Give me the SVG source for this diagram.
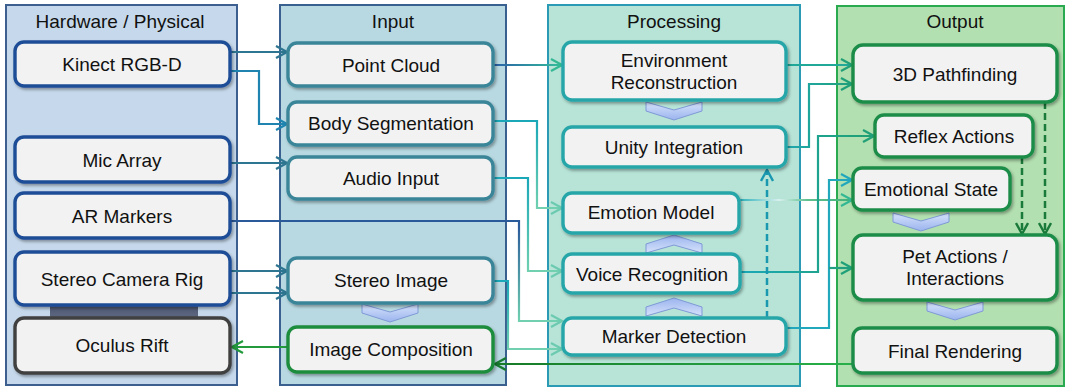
<svg xmlns="http://www.w3.org/2000/svg" xmlns:xlink="http://www.w3.org/1999/xlink" width="1067" height="390" viewBox="0 0 1067 390">
<defs>
<style>
.t{font-family:"Liberation Sans",Arial,sans-serif;font-size:19px;fill:#111;text-anchor:middle}
.box{fill:#f2f2f2;stroke-width:3.4;filter:url(#sh)}
.hw{stroke:#1f4e96}
.oc{stroke:#404040}
.in{stroke:#3a8599}
.ic{stroke:#1f8c3e}
.pr{stroke:#26a6a8}
.out{stroke:#1e8c48}
.c{fill:none;stroke-width:2.2}
.d{fill:none;stroke-width:2.5;stroke-dasharray:7 4}
.chev{fill:url(#gchev);stroke:#7f9ad6;stroke-width:1}
</style>
<filter id="sh" x="-10%" y="-20%" width="125%" height="150%">
<feDropShadow dx="1.5" dy="2" stdDeviation="1.5" flood-color="#000" flood-opacity="0.35"/>
</filter>
<linearGradient id="gchev" x1="0" y1="0" x2="0" y2="1">
<stop offset="0" stop-color="#d6e2fb"/><stop offset="1" stop-color="#9bb4ee"/>
</linearGradient>
<linearGradient id="gbar" x1="0" y1="0" x2="0" y2="1">
<stop offset="0" stop-color="#4a5470"/><stop offset="1" stop-color="#606a82"/>
</linearGradient>
<path id="chev" d="M0,0 L28,8 L56,0 L56,9 L28,18 L0,9 Z"/>
<linearGradient id="g4" gradientUnits="userSpaceOnUse" x1="0" y1="225" x2="0" y2="321"><stop offset="0" stop-color="#2a5a9a"/><stop offset="1" stop-color="#70d0b0"/></linearGradient>
<linearGradient id="g8" gradientUnits="userSpaceOnUse" x1="493" y1="0" x2="563" y2="0"><stop offset="0" stop-color="#2a5fa8"/><stop offset="1" stop-color="#34c09a"/></linearGradient>
<linearGradient id="g9" gradientUnits="userSpaceOnUse" x1="0" y1="121" x2="0" y2="208"><stop offset="0" stop-color="#1aa8b8"/><stop offset="1" stop-color="#70d0b0"/></linearGradient>
<linearGradient id="g10" gradientUnits="userSpaceOnUse" x1="0" y1="178" x2="0" y2="271"><stop offset="0" stop-color="#1aa8b8"/><stop offset="1" stop-color="#70d0b0"/></linearGradient>
<linearGradient id="g11" gradientUnits="userSpaceOnUse" x1="0" y1="281" x2="0" y2="349"><stop offset="0" stop-color="#1aa8b8"/><stop offset="1" stop-color="#70d0b0"/></linearGradient>
<linearGradient id="g7" gradientUnits="userSpaceOnUse" x1="493" y1="0" x2="853" y2="0"><stop offset="0" stop-color="#177a28"/><stop offset="1" stop-color="#28b04a"/></linearGradient>
<linearGradient id="g14" gradientUnits="userSpaceOnUse" x1="739" y1="0" x2="853" y2="0"><stop offset="0" stop-color="#2ab0b8"/><stop offset="0.35" stop-color="#d8f0ee"/><stop offset="0.6" stop-color="#60c090"/><stop offset="1" stop-color="#40b078"/></linearGradient>
<linearGradient id="g13" gradientUnits="userSpaceOnUse" x1="786" y1="0" x2="853" y2="0"><stop offset="0" stop-color="#20a8b0"/><stop offset="1" stop-color="#20a078"/></linearGradient>
<linearGradient id="g15" gradientUnits="userSpaceOnUse" x1="740" y1="0" x2="875" y2="0"><stop offset="0" stop-color="#1aa8b8"/><stop offset="1" stop-color="#20a070"/></linearGradient>
<marker id="mSlate" markerUnits="userSpaceOnUse" markerWidth="14" markerHeight="14" viewBox="0 0 14 14" refX="12" refY="7" orient="auto"><path d="M1,1 L12,7 L1,13" fill="none" stroke="#2d7590" stroke-width="2.2"/></marker>
<marker id="mBlue" markerUnits="userSpaceOnUse" markerWidth="14" markerHeight="14" viewBox="0 0 14 14" refX="12" refY="7" orient="auto"><path d="M1,1 L12,7 L1,13" fill="none" stroke="#1f85b0" stroke-width="2.2"/></marker>
<marker id="mLight" markerUnits="userSpaceOnUse" markerWidth="14" markerHeight="14" viewBox="0 0 14 14" refX="12" refY="7" orient="auto"><path d="M1,1 L12,7 L1,13" fill="none" stroke="#6ccab0" stroke-width="2.2"/></marker>
<marker id="mTG" markerUnits="userSpaceOnUse" markerWidth="14" markerHeight="14" viewBox="0 0 14 14" refX="12" refY="7" orient="auto"><path d="M1,1 L12,7 L1,13" fill="none" stroke="#34b894" stroke-width="2.2"/></marker>
<marker id="mGreen" markerUnits="userSpaceOnUse" markerWidth="14" markerHeight="14" viewBox="0 0 14 14" refX="12" refY="7" orient="auto"><path d="M1,1 L12,7 L1,13" fill="none" stroke="#20a078" stroke-width="2.2"/></marker>
<marker id="mTeal" markerUnits="userSpaceOnUse" markerWidth="14" markerHeight="14" viewBox="0 0 14 14" refX="12" refY="7" orient="auto"><path d="M1,1 L12,7 L1,13" fill="none" stroke="#22a8bc" stroke-width="2.2"/></marker>
<marker id="mDk" markerUnits="userSpaceOnUse" markerWidth="14" markerHeight="14" viewBox="0 0 14 14" refX="12" refY="7" orient="auto"><path d="M1,1 L12,7 L1,13" fill="none" stroke="#187a30" stroke-width="2.4"/></marker>
<marker id="mG2" markerUnits="userSpaceOnUse" markerWidth="14" markerHeight="14" viewBox="0 0 14 14" refX="12" refY="7" orient="auto"><path d="M1,1 L12,7 L1,13" fill="none" stroke="#239a3c" stroke-width="2.2"/></marker>
<marker id="mDT" markerUnits="userSpaceOnUse" markerWidth="14" markerHeight="14" viewBox="0 0 14 14" refX="12" refY="7" orient="auto"><path d="M1,1 L12,7 L1,13" fill="none" stroke="#1a98b0" stroke-width="2.4"/></marker>
<marker id="mDG" markerUnits="userSpaceOnUse" markerWidth="14" markerHeight="14" viewBox="0 0 14 14" refX="12" refY="7" orient="auto"><path d="M1,1 L12,7 L1,13" fill="none" stroke="#1a7a3a" stroke-width="2.4"/></marker>
</defs>

<g id="containers">
<g id="hardware"><rect x="6" y="5" width="231" height="380" fill="#c6d9ec" stroke="#3c5f8f" stroke-width="2"/><text class="t" x="120" y="28">Hardware / Physical</text></g>
<g id="input"><rect x="280" y="5" width="226" height="380" fill="#b8d9e2" stroke="#3a6090" stroke-width="2"/><text class="t" x="393" y="28">Input</text></g>
<g id="processing"><rect x="548" y="5" width="252" height="381" fill="#b7e4d7" stroke="#2a9ab5" stroke-width="2"/><text class="t" x="674" y="28">Processing</text></g>
<g id="output"><rect x="837" y="6" width="227" height="380" fill="#b3e0b0" stroke="#2aaa50" stroke-width="2"/><text class="t" x="955" y="28">Output</text></g>
</g>

<rect x="50" y="302" width="148" height="18" fill="url(#gbar)"/>

<g id="chevrons">
<use xlink:href="#chev" class="chev" x="362" y="304"/>
<use xlink:href="#chev" class="chev" x="646" y="102"/>
<use xlink:href="#chev" class="chev" transform="translate(646,253) scale(1,-1)"/>
<use xlink:href="#chev" class="chev" transform="translate(646,316) scale(1,-1)"/>
<use xlink:href="#chev" class="chev" x="893" y="213"/>
<use xlink:href="#chev" class="chev" x="927" y="302"/>
</g>

<g id="connectors">
<path class="c" d="M230,52 H287" stroke="#2d7590" marker-end="url(#mSlate)"/>
<path class="c" d="M230,71 H259 V124 H287" stroke="#1f85b0" marker-end="url(#mBlue)"/>
<path class="c" d="M230,163 H287" stroke="#2d7590" marker-end="url(#mSlate)"/>
<path class="c" d="M230,221 H519 V321 H562" stroke="url(#g4)" marker-end="url(#mLight)"/>
<path class="c" d="M230,271 H287" stroke="#2d7590" marker-end="url(#mSlate)"/>
<path class="c" d="M230,293 H287" stroke="#2d7590" marker-end="url(#mSlate)"/>
<path class="c" d="M288,347 H232" stroke="#239a3c" marker-end="url(#mG2)"/>
<path class="c" d="M853,364 H495" stroke="url(#g7)" stroke-width="2.6" marker-end="url(#mDk)"/>
<path class="c" d="M493,65 H562" stroke="url(#g8)" marker-end="url(#mTG)"/>
<path class="c" d="M493,121 H537 V208 H562" stroke="url(#g9)" marker-end="url(#mLight)"/>
<path class="c" d="M493,178 H528 V271 H562" stroke="url(#g10)" marker-end="url(#mLight)"/>
<path class="c" d="M493,281 H508 V349 H562" stroke="url(#g11)" marker-end="url(#mLight)"/>
<path class="c" d="M786,65 H852" stroke="#20a898" marker-end="url(#mGreen)"/>
<path class="c" d="M786,147 H809 V84 H852" stroke="url(#g13)" marker-end="url(#mGreen)"/>
<path class="c" d="M739,200 H852" stroke="url(#g14)" marker-end="url(#mTG)"/>
<path class="c" d="M740,272 H818 V136 H874" stroke="url(#g15)" marker-end="url(#mGreen)"/>
<path class="c" d="M786,328 H829 V180 H852" stroke="#22a8bc" marker-end="url(#mTeal)"/>
<path class="c" d="M829,268 H852" stroke="#20a080" marker-end="url(#mGreen)"/>
<path class="d" d="M767,318 V170" stroke="#1a98b0" marker-end="url(#mDT)"/>
<path class="d" d="M1022,157 V234" stroke="#1a7a3a" marker-end="url(#mDG)"/>
<path class="d" d="M1045,102 V234" stroke="#1a7a3a" marker-end="url(#mDG)"/>
</g>

<g id="n-kinect"><rect class="box hw" x="15" y="42" width="215" height="44" rx="9"/><text class="t" x="122" y="71">Kinect RGB-D</text></g>
<g id="n-mic"><rect class="box hw" x="15" y="137" width="215" height="45" rx="9"/><text class="t" x="122" y="167">Mic Array</text></g>
<g id="n-ar"><rect class="box hw" x="15" y="193" width="215" height="45" rx="9"/><text class="t" x="122" y="223">AR Markers</text></g>
<g id="n-stereo-rig"><rect class="box hw" x="15" y="252" width="215" height="53" rx="9"/><text class="t" x="122" y="286">Stereo Camera Rig</text></g>
<g id="n-oculus"><rect class="box oc" x="15" y="318" width="215" height="55" rx="9"/><text class="t" x="122" y="352">Oculus Rift</text></g>

<g id="n-pointcloud"><rect class="box in" x="288" y="43" width="205" height="43" rx="9"/><text class="t" x="391" y="72">Point Cloud</text></g>
<g id="n-bodyseg"><rect class="box in" x="288" y="102" width="205" height="43" rx="9"/><text class="t" x="391" y="130">Body Segmentation</text></g>
<g id="n-audio"><rect class="box in" x="288" y="157" width="205" height="42" rx="9"/><text class="t" x="391" y="185">Audio Input</text></g>
<g id="n-stereo-img"><rect class="box in" x="288" y="258" width="205" height="45" rx="9"/><text class="t" x="391" y="287">Stereo Image</text></g>
<g id="n-imgcomp"><rect class="box ic" x="288" y="327" width="205" height="45" rx="9"/><text class="t" x="391" y="356">Image Composition</text></g>

<g id="n-envrec"><rect class="box pr" x="563" y="42" width="223" height="58" rx="9"/><text class="t" x="674" y="67">Environment</text><text class="t" x="674" y="89">Reconstruction</text></g>
<g id="n-unity"><rect class="box pr" x="563" y="127" width="223" height="40" rx="9"/><text class="t" x="674" y="154">Unity Integration</text></g>
<g id="n-emotion"><rect class="box pr" x="563" y="193" width="176" height="40" rx="9"/><text class="t" x="651" y="219">Emotion Model</text></g>
<g id="n-voice"><rect class="box pr" x="563" y="254" width="177" height="39" rx="9"/><text class="t" x="652" y="281">Voice Recognition</text></g>
<g id="n-marker"><rect class="box pr" x="563" y="318" width="223" height="37" rx="9"/><text class="t" x="674" y="343">Marker Detection</text></g>

<g id="n-path"><rect class="box out" x="853" y="45" width="204" height="57" rx="10"/><text class="t" x="955" y="81">3D Pathfinding</text></g>
<g id="n-reflex"><rect class="box out" x="875" y="115" width="158" height="42" rx="9"/><text class="t" x="954" y="143">Reflex Actions</text></g>
<g id="n-emostate"><rect class="box out" x="853" y="168" width="157" height="42" rx="9"/><text class="t" x="931" y="196">Emotional State</text></g>
<g id="n-pet"><rect class="box out" x="853" y="235" width="204" height="65" rx="10"/><text class="t" x="955" y="263">Pet Actions /</text><text class="t" x="955" y="285">Interactions</text></g>
<g id="n-final"><rect class="box out" x="853" y="328" width="204" height="45" rx="9"/><text class="t" x="955" y="358">Final Rendering</text></g>
</svg>
